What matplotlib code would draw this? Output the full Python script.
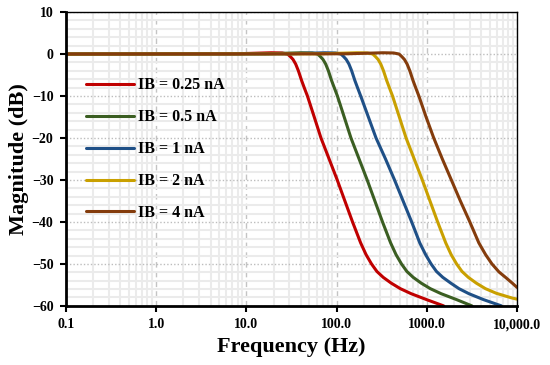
import matplotlib
matplotlib.use("Agg")
import matplotlib.pyplot as plt
from matplotlib.ticker import LogLocator, MultipleLocator, FixedLocator, FixedFormatter, NullFormatter

plt.rcParams['font.family'] = ['Liberation Serif', 'DejaVu Serif']
plt.rcParams['font.weight'] = 'bold'
plt.rcParams['axes.unicode_minus'] = True

labels = ["IB = 0.25 nA", "IB = 0.5 nA", "IB = 1 nA", "IB = 2 nA", "IB = 4 nA"]
colors = ["#C00000", "#3B5E22", "#1F5087", "#C9A000", "#843C0C"]

# Magnitude (dB) at each frequency (Hz)
f_025 = [0.1, 7.5, 18.9, 24.9, 28.6, 30.7, 32.9, 35.2, 37.7, 40.9, 44.1, 47.5, 56.5, 67.1, 82.6,
         101.6, 123.5, 150.2, 184.8, 212.2, 243.6, 279.7, 328.6, 404.3, 509, 671, 992, 1537]
m_025 = [0, 0.05, 0.3, 0.25, 0, -0.6, -1.3, -2.4, -4.0, -6.3, -8.2, -10, -15, -20, -25,
         -30, -35, -40, -45, -47.8, -50, -51.8, -53.2, -54.6, -55.9, -57.1, -58.5, -60]

f_05 = [0.1, 16.2, 40.6, 53.6, 61.6, 66.0, 70.7, 75.7, 81.1, 87.9, 94.9, 102.1, 121.4, 144.3, 177.5,
        218.3, 265.5, 322.8, 397.2, 456.1, 523.7, 601.2, 706.3, 869.0, 1094.5, 1442.7, 2132.9, 3162]
m_05 = [0, 0.05, 0.3, 0.25, 0, -0.6, -1.3, -2.4, -4.0, -6.3, -8.2, -10, -15, -20, -25,
        -30, -35, -40, -45, -47.8, -50, -51.8, -53.2, -54.6, -55.9, -57.1, -58.5, -60]

f_1 = [0.1, 29.3, 73.7, 97.1, 111.6, 119.5, 128.0, 137.1, 146.9, 159.3, 171.9, 185, 225, 273.6, 348.5,
       438.7, 546, 679.5, 836.0, 970.9, 1114.8, 1279.8, 1503.7, 1850, 2275.5, 2932, 4238, 6717]
m_1 = [0, 0.05, 0.3, 0.25, 0, -0.6, -1.3, -2.4, -4.0, -6.3, -8.2, -10, -15, -20, -25,
       -30, -35, -40, -45, -47.8, -50, -51.8, -53.2, -54.6, -55.9, -57.1, -58.5, -60]

f_2 = [0.1, 66.1, 166.0, 218.9, 251.5, 269.4, 288.6, 309.0, 331.1, 359.0, 387.4, 417, 495.8, 589.2, 724.7,
       891.5, 1084, 1318.6, 1622, 1862.7, 2138.8, 2455.3, 2884.8, 3549, 4470, 5892, 8711, 10000]
m_2 = [0, 0.05, 0.3, 0.25, 0, -0.6, -1.3, -2.4, -4.0, -6.3, -8.2, -10, -15, -20, -25,
       -30, -35, -40, -45, -47.8, -50, -51.8, -53.2, -54.6, -55.9, -57.0, -58.1, -58.4]

f_4 = [0.1, 129.4, 325.1, 428.7, 492.4, 527.5, 565.1, 605.1, 648.4, 703.1, 758.6, 816.6, 981.6, 1193.9, 1486,
       1871, 2355, 2999, 3776, 4487, 5273, 6300, 7650, 9000, 10000]
m_4 = [0, 0.05, 0.3, 0.25, 0, -0.6, -1.3, -2.4, -4.0, -6.3, -8.2, -10, -15, -20, -25,
       -30, -35, -40, -45, -47.8, -50, -51.9, -53.4, -54.7, -55.6]

freqs = [f_025, f_05, f_1, f_2, f_4]
mags = [m_025, m_05, m_1, m_2, m_4]

x_ticks = [0.1, 1, 10, 100, 1000, 10000]
x_ticklabels = ["0.1", "1.0", "10.0", "100.0", "1000.0", "10,000.0"]
y_ticks = [10, 0, -10, -20, -30, -40, -50, -60]

fig = plt.figure(figsize=(5.5, 3.65), dpi=100)
ax = fig.add_axes([0.12, 0.162, 0.82, 0.805])

for f, m, c, l in zip(freqs, mags, colors, labels):
    ax.plot(f, m, color=c, lw=2.2, label=l, solid_capstyle='round', solid_joinstyle='round')

ax.set_xscale('log')
ax.set_xlim(0.1, 10000)
ax.set_ylim(-60, 10)

ax.xaxis.set_major_locator(FixedLocator(x_ticks))
ax.xaxis.set_major_formatter(FixedFormatter(x_ticklabels))
ax.xaxis.set_minor_locator(LogLocator(base=10, subs=range(2, 10), numticks=20))
ax.xaxis.set_minor_formatter(NullFormatter())
ax.yaxis.set_major_locator(FixedLocator(y_ticks))
ax.yaxis.set_minor_locator(MultipleLocator(2))

ax.grid(which='minor', color='#ebebeb', lw=1.5, ls='-')
ax.grid(which='major', axis='x', color='#c4c4c4', lw=1.0, ls=(0, (4, 3)))
ax.grid(which='major', axis='y', color='#bdbdbd', lw=1.0, ls=(0, (1, 1.5)))
ax.set_axisbelow(True)

for s in ['left', 'bottom']:
    ax.spines[s].set_linewidth(2)
for s in ['top', 'right']:
    ax.spines[s].set_linewidth(1)

ax.tick_params(which='major', direction='out', length=4, width=1.5, labelsize=10, pad=5)
ax.tick_params(which='minor', length=0)
for t in ax.get_xticklabels() + ax.get_yticklabels():
    t.set_fontweight('bold')

ax.set_xlabel("Frequency (Hz)", fontsize=16, fontweight='bold', labelpad=4)
ax.set_ylabel("Magnitude (dB)", fontsize=16, fontweight='bold', labelpad=2)

leg = ax.legend(loc='upper left', bbox_to_anchor=(0.031, 0.8), frameon=False,
                prop={'size': 11.5, 'weight': 'bold'}, handlelength=3.0,
                labelspacing=1.0, handletextpad=0.25, borderaxespad=0)

fig.savefig("out.png", dpi=100)
